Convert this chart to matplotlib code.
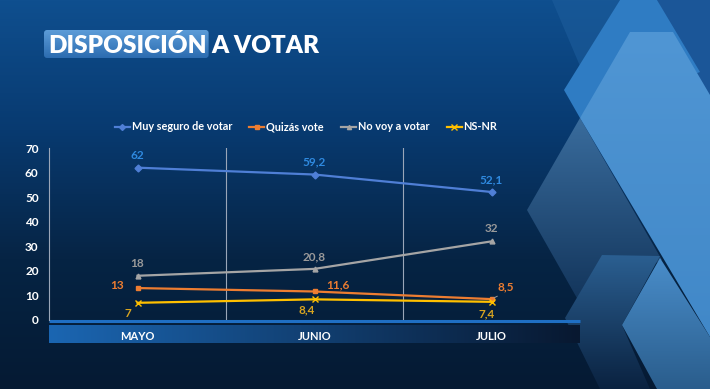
import numpy as np
import matplotlib
matplotlib.use("Agg")
import matplotlib.pyplot as plt
from matplotlib.patches import Polygon, FancyBboxPatch
from matplotlib.colors import LinearSegmentedColormap
from matplotlib.lines import Line2D

# ---- data ----
meses = ["MAYO", "JUNIO", "JULIO"]
muy_seguro = [62, 59.2, 52.1]
quizas = [13, 11.6, 8.5]
no_voy = [18, 20.8, 32]
nsnr = [7, 8.4, 7.4]
series_names = ["Muy seguro de votar", "Quizás vote", "No voy a votar", "NS-NR"]
yticks = [0, 10, 20, 30, 40, 50, 60, 70]

W, H = 710, 389
fnt = "Lato"

fig = plt.figure(figsize=(W/100, H/100), dpi=100)

# ---- background (pixel coords, y down) ----
bg = fig.add_axes([0, 0, 1, 1], zorder=-1)
bg.set_xlim(0, W)
bg.set_ylim(H, 0)
bg.axis("off")

def grad(ax, extent, c1, c2, vertical=True, clip=None, z=0):
    cm = LinearSegmentedColormap.from_list("g", [c1, c2])
    g = np.linspace(0, 1, 256)
    arr = g.reshape(-1, 1) if vertical else g.reshape(1, -1)
    im = ax.imshow(arr, cmap=cm, extent=extent, aspect="auto",
                   origin="upper", zorder=z, interpolation="bicubic")
    if clip is not None:
        ax.add_patch(clip)
        clip.set_visible(False)
        im.set_clip_path(clip)
    return im

# main gradient (top lighter blue -> dark navy)
cm_bg = LinearSegmentedColormap.from_list("bg", ["#0f4f8f", "#083a70", "#062444", "#051a33"])
bg.imshow(np.linspace(0, 1, 256).reshape(-1, 1), cmap=cm_bg,
          extent=[0, W, H, 0], aspect="auto", zorder=0)

# decorative shapes on the right
faint = Polygon([(552, 0), (620, 0), (580, 66)], closed=True, fc="#1d5d9c", ec="none", alpha=0.6, zorder=1)
bg.add_patch(faint)
corner = Polygon([(657, 0), (710, 0), (710, 100), (673, 32)], closed=True, fc="#1b5698", ec="none", zorder=1)
bg.add_patch(corner)
shapeC = Polygon([(527, 210), (580, 118), (662, 260), (578, 300)], closed=True)
grad(bg, [520, 665, 305, 115], "#3a6d9e", "#12345a", clip=shapeC, z=1)
shapeD = Polygon([(602, 255), (660, 256), (622, 325), (650, 389), (600, 389), (565, 318)], closed=True)
grad(bg, [560, 662, 389, 255], "#2b5f91", "#0a2240", clip=shapeD, z=1.5)
mid = Polygon([(620, 0), (657, 0), (700, 72), (580, 118), (564, 90)], closed=True, fc="#2f7cc3", ec="none", zorder=2)
bg.add_patch(mid)
light = Polygon([(630, 32), (673, 32), (710, 95), (710, 337), (580, 118)], closed=True)
grad(bg, [580, 710, 337, 32], "#5096d4", "#4188c8", clip=light, z=3)
shapeE = Polygon([(660, 258), (710, 337), (710, 389), (657, 389), (622, 325)], closed=True)
grad(bg, [620, 710, 389, 256], "#4a8ecb", "#2a5d8c", clip=shapeE, z=3)

# title: highlighted first word, sized from its rendered extent
t1 = bg.text(48, 53, "DISPOSICIÓN", color="white", fontsize=17.5,
             fontweight="heavy", family=fnt, ha="left", va="baseline", zorder=5)
rend = fig.canvas.get_renderer()
bb = t1.get_window_extent(rend)
x_end = bb.x1  # pixels from left (dpi 100 -> same as data units)
bg.text(x_end + 5, 53, "A VOTAR", color="white", fontsize=17.5,
        fontweight="heavy", family=fnt, ha="left", va="baseline", zorder=5)
box = FancyBboxPatch((44, 30), x_end + 2 - 44, 28, boxstyle="round,pad=0,rounding_size=3")
grad(bg, [44, x_end + 2, 58, 30], "#5c9cd8", "#2c6cb0", clip=box, z=4)

# category bar below the axis
grad(bg, [49, 580, 343, 325], "#1b66b2", "#081830", vertical=False, z=4)
bg.plot([49, 580], [321, 321], color="#1f6fc4", lw=2.2, zorder=5, solid_capstyle="butt")

# ---- chart ----
ax = fig.add_axes([49/W, 1-320/H, 531/W, 172/H])
ax.patch.set_alpha(0)
x = np.arange(len(meses))

cols = ["#4f7fd6", "#ed7d31", "#a5a5a5", "#ffc000"]
lab_cols = ["#2f8ae0", "#ed7d31", "#9a9a9a", "#d9a520"]
markers = ["D", "s", "^", "x"]
data = [muy_seguro, quizas, no_voy, nsnr]

for vals, c, m in zip(data, cols, markers):
    ax.plot(x, vals, color=c, lw=1.6, marker=m, ms=3.5 if m != "x" else 4.5,
            mew=1, zorder=3)

def fmt(v):
    return f"{v:g}".replace(".", ",")

# label offsets (points)
offs = [
    [(0, 9), (0, 9), (0, 8.5)],
    [(-15, 1.5), (17, 4.5), (10, 9)],
    [(0, 8.5), (0, 8.5), (0, 9)],
    [(-7, -7.5), (-5.5, -7.5), (-3.5, -9)],
]
for vals, c, off in zip(data, lab_cols, offs):
    for xi, v, o in zip(x, vals, off):
        ax.annotate(fmt(v), (xi, v), xytext=o, textcoords="offset points",
                    ha="center", va="center", color=c, fontsize=8.5,
                    fontweight="bold", family=fnt)

# leader line for 8,5
ax.annotate("", xy=(2, quizas[2]), xytext=(6, 3), textcoords="offset points",
            arrowprops=dict(arrowstyle="-", color="#9a9a9a", lw=0.7))

ax.set_xlim(-0.5, 2.5)
ax.set_ylim(0, 70)
ax.set_yticks(yticks)
ax.set_yticklabels([str(t) for t in yticks], color="white", fontsize=8.5,
                   fontweight="bold", family=fnt)
ax.tick_params(axis="y", length=0, pad=7.5)
ax.set_xticks([])
for s in ["top", "right", "bottom"]:
    ax.spines[s].set_visible(False)
ax.spines["left"].set_color("#9aa6b8")
ax.spines["left"].set_linewidth(0.8)
for gx in [0.5, 1.5]:
    ax.axvline(gx, color="#9aa6b8", lw=0.8, zorder=1)

# category labels
for xi, m in zip(x, meses):
    ax.text(xi, -0.098, m, transform=ax.get_xaxis_transform(), ha="center",
            va="center", color="white", fontsize=8, fontweight="bold", family=fnt)

# legend
handles = [Line2D([0], [0], color=c, lw=1.6, marker=m, ms=3 if m != "x" else 4, mew=1)
           for c, m in zip(cols, markers)]
leg = fig.legend(handles, series_names, loc="center", ncol=4,
                 bbox_to_anchor=(306/W, 1-127/H), frameon=False,
                 prop={"family": fnt, "size": 7.8, "weight": "bold"},
                 handlelength=1.4, handletextpad=0.15, columnspacing=1.6)
for t in leg.get_texts():
    t.set_color("white")

fig.savefig("out.png", dpi=100)
